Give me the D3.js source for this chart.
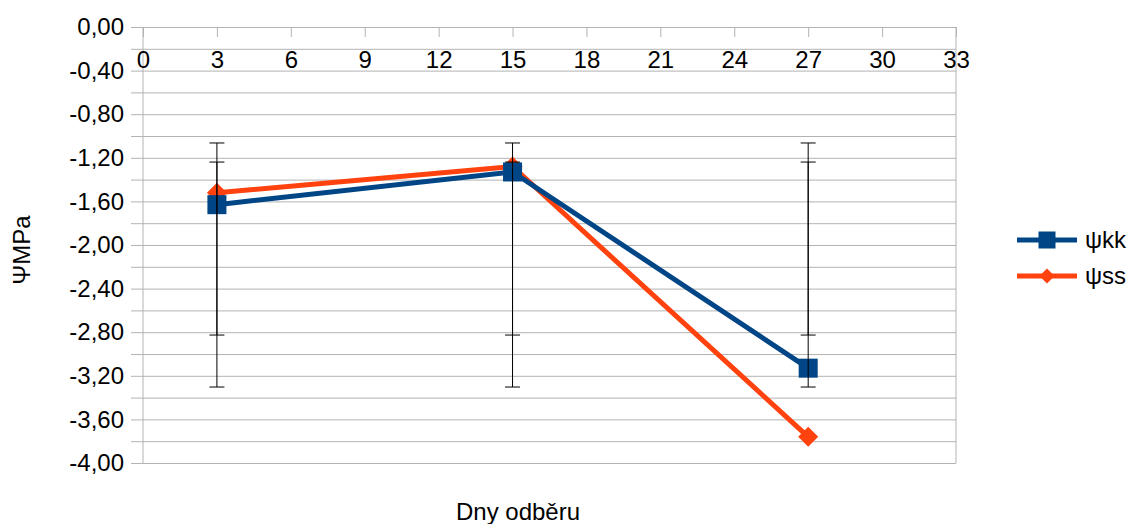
<!DOCTYPE html>
<html>
<head>
<meta charset="utf-8">
<title>ΨMPa - Dny odběru</title>
<script src="https://d3js.org/d3.v7.min.js"></script>
<style>
  body { margin: 0; background: #fff; }
  svg text { font-family: "Liberation Sans", Arial, sans-serif; fill: #000; }
</style>
</head>
<body>
<div id="chart"></div>
<script>
// data
const days = [3, 15, 27];
const psiKK = [-1.63, -1.33, -3.13];
const psiSS = [-1.52, -1.28, -3.76];
// error bar ends (same at every day, as drawn in the original)
const errKK = [-2.826, -1.239];
const errSS = [-3.303, -1.064];
const xTicks = d3.range(0, 34, 3);
const yMajor = d3.range(0, -4.01, -0.4);
const yMinor = d3.range(0, -4.01, -0.2);

const width = 1133, height = 524;
const margin = {top: 27, right: 177, bottom: 61, left: 143};

const svg = d3.select("#chart").append("svg")
    .attr("width", width)
    .attr("height", height);

const x = d3.scaleLinear().domain([0, 33]).range([margin.left, width - margin.right]);
const y = d3.scaleLinear().domain([-4, 0]).range([height - margin.bottom, margin.top]);

const gridCol = "#b3b3b3";
const fs = 24;

// horizontal grid lines, sticking out left of the axis like ticks
const grid = svg.append("g")
    .attr("transform", "translate(" + (margin.left - 12) + ",0)")
    .call(d3.axisLeft(y).tickValues(yMinor).tickSize(-(x(33) - margin.left + 12)).tickFormat(""));
grid.select(".domain").remove();
grid.selectAll("line").attr("stroke", gridCol);

// y labels
const fmt = d3.format(".2f");
const yAx = svg.append("g")
    .attr("transform", "translate(" + margin.left + ",0)")
    .call(d3.axisLeft(y).tickValues(yMajor).tickSize(0).tickPadding(19)
        .tickFormat(d => fmt(d).replace(".", ",").replace("−", "-")));
yAx.select(".domain").remove();
yAx.selectAll("text").style("font-size", fs + "px").attr("fill", "#000");

// y axis line and right border
svg.append("line").attr("x1", x(0)).attr("x2", x(0)).attr("y1", y(0)).attr("y2", y(-4))
    .attr("stroke", gridCol);
svg.append("line").attr("x1", x(33)).attr("x2", x(33)).attr("y1", y(0)).attr("y2", y(-4))
    .attr("stroke", gridCol);

// x axis along the top (value 0)
const xAx = svg.append("g")
    .attr("transform", "translate(0," + y(0) + ")")
    .call(d3.axisBottom(x).tickValues(xTicks).tickSize(10).tickPadding(14));
xAx.select(".domain").attr("stroke", gridCol);
xAx.selectAll("line").attr("stroke", gridCol);
xAx.selectAll("text").style("font-size", fs + "px").attr("fill", "#000");

// axis titles
svg.append("text")
    .attr("transform", "translate(30," + (y(-2) + 5) + ") rotate(-90)")
    .style("text-anchor", "middle")
    .style("font-size", fs + "px")
    .text("ΨMPa");

svg.append("text")
    .attr("x", 518)
    .attr("y", 520)
    .style("text-anchor", "middle")
    .style("font-size", fs + "px")
    .text("Dny odběru");

const series = [
  {name: "ψss", values: psiSS, color: "#ff420e", marker: "diamond", err: errSS},
  {name: "ψkk", values: psiKK, color: "#004586", marker: "square", err: errKK}
];

const line = d3.line().x(d => x(d[0])).y(d => y(d[1]));

function drawMarker(g, type, cx, cy, s, color) {
  if (type === "square") {
    g.append("rect").attr("x", cx - s / 2).attr("y", cy - s / 2)
        .attr("width", s).attr("height", s).attr("fill", color);
  } else {
    const h = s / 2;
    g.append("path")
        .attr("d", "M" + cx + "," + (cy - h) + "L" + (cx + h) + "," + cy + "L" + cx + "," + (cy + h) + "L" + (cx - h) + "," + cy + "Z")
        .attr("fill", color);
  }
}

series.forEach(function(s) {
  const pts = days.map((d, i) => [d, s.values[i]]);
  svg.append("path")
      .datum(pts)
      .attr("d", line)
      .attr("fill", "none")
      .attr("stroke", s.color)
      .attr("stroke-width", 5)
      .attr("stroke-linejoin", "round");
  const g = svg.append("g");
  pts.forEach(p => drawMarker(g, s.marker, x(p[0]), y(p[1]), s.marker === "square" ? 19 : 20, s.color));
});

// error bars on top
series.forEach(function(s) {
  days.forEach(function(d) {
    const cx = x(d);
    const eg = svg.append("g").attr("stroke", "#000").attr("stroke-width", 1);
    eg.append("line").attr("x1", cx).attr("x2", cx).attr("y1", y(s.err[1])).attr("y2", y(s.err[0]));
    s.err.forEach(v => eg.append("line")
        .attr("x1", cx - 7.5).attr("x2", cx + 7.5).attr("y1", y(v)).attr("y2", y(v)));
  });
});

// legend
const legend = [series[1], series[0]];
legend.forEach(function(s, i) {
  const ly = 240 + i * 36;
  const g = svg.append("g");
  g.append("line").attr("x1", 1017).attr("x2", 1077).attr("y1", ly).attr("y2", ly)
      .attr("stroke", s.color).attr("stroke-width", 5);
  drawMarker(g, s.marker, 1047, ly, s.marker === "square" ? 17 : 15, s.color);
  g.append("text").attr("x", 1085).attr("y", ly).attr("dy", "0.35em")
      .style("font-size", fs + "px").text(s.name);
});
</script>
</body>
</html>
